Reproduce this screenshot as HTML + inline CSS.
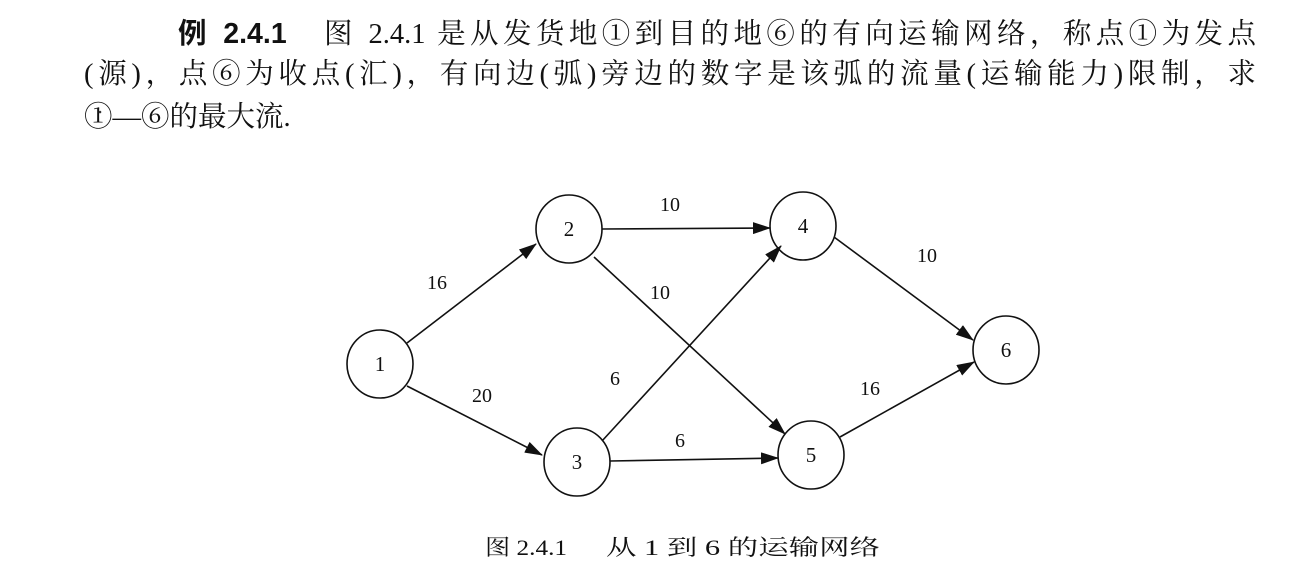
<!DOCTYPE html>
<html><head><meta charset="utf-8"><style>
body{margin:0;width:1298px;height:573px;background:#fff;overflow:hidden;position:relative;font-family:"Liberation Serif","Noto Serif CJK SC",serif;color:#111}
.l{position:absolute;font-size:28.5px;white-space:nowrap;text-align:justify;text-align-last:justify;line-height:36px}
.b{font-family:"Liberation Sans","Noto Sans CJK SC",sans-serif;font-weight:bold}
svg{position:absolute;left:0;top:0}
</style></head><body>
<div class="l" style="left:178px;top:16px;width:1078px"><span class="b">例 2.4.1</span>　图 2.4.1 是从发货地①到目的地⑥的有向运输网络，称点①为发点</div>
<div class="l" style="left:84px;top:57px;width:1172px">(源)，点⑥为收点(汇)，有向边(弧)旁边的数字是该弧的流量(运输能力)限制，求</div>
<div class="l" style="left:84px;top:100px;text-align:left;text-align-last:left">①—⑥的最大流.</div>
<svg width="1298" height="573" font-family="Liberation Serif, serif" font-size="20">
<defs><marker id="a" markerWidth="18" markerHeight="12" refX="17" refY="6" orient="auto" markerUnits="userSpaceOnUse"><path d="M0,0 L18,6 L0,12 z" fill="#111"/></marker></defs>
<g fill="none" stroke="#111" stroke-width="1.6">
<ellipse cx="380" cy="364" rx="33" ry="34"/>
<ellipse cx="569" cy="229" rx="33" ry="34"/>
<ellipse cx="577" cy="462" rx="33" ry="34"/>
<ellipse cx="803" cy="226" rx="33" ry="34"/>
<ellipse cx="811" cy="455" rx="33" ry="34"/>
<ellipse cx="1006" cy="350" rx="33" ry="34"/>
<g marker-end="url(#a)">
<line x1="407" y1="343" x2="536" y2="244"/>
<line x1="407" y1="386" x2="542" y2="455"/>
<line x1="602" y1="229" x2="770" y2="228"/>
<line x1="594" y1="257" x2="785" y2="434"/>
<line x1="602" y1="441" x2="781" y2="246"/>
<line x1="610" y1="461" x2="778" y2="458"/>
<line x1="834" y1="237" x2="973" y2="340"/>
<line x1="840" y1="437" x2="974" y2="362"/>
</g></g>
<g fill="#111" text-anchor="middle">
<text x="380" y="371" font-size="21">1</text><text x="569" y="236" font-size="21">2</text><text x="577" y="469" font-size="21">3</text>
<text x="803" y="233" font-size="21">4</text><text x="811" y="462" font-size="21">5</text><text x="1006" y="357" font-size="21">6</text>
<text x="437" y="289">16</text><text x="482" y="402">20</text><text x="670" y="211">10</text>
<text x="660" y="299">10</text><text x="615" y="385">6</text><text x="680" y="447">6</text>
<text x="927" y="262">10</text><text x="870" y="395">16</text>
</g>
<g fill="#111" font-family="Liberation Serif, Noto Serif CJK SC, serif" font-size="22">
<text x="485" y="555" textLength="82" lengthAdjust="spacingAndGlyphs">图 2.4.1</text>
<text x="606" y="555" textLength="274" lengthAdjust="spacingAndGlyphs">从 1 到 6 的运输网络</text>
</g>
<circle cx="100" cy="112" r="1.3" fill="#333"/>
</svg>
</body></html>
